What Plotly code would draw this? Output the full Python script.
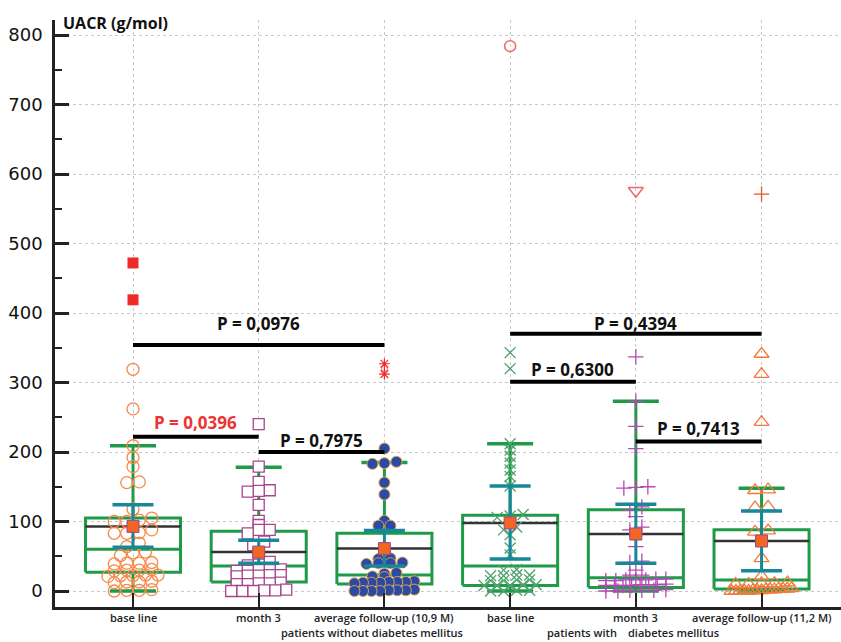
import plotly.graph_objects as go

# ---------------- data ----------------
categories = ["base line", "month 3", "average follow-up (10,9 M)",
              "base line", "month 3", "average follow-up (11,2 M)"]

g1_vals = [209, 192, 179, 157, 156, 118, 105, 102, 100, 100, 88, 84, 83, 83, 69, 64, 56, 55, 51,
           41, 40, 40, 39, 31, 30, 30, 29, 23, 23, 22, 22, 21, 14, 13, 13, 12, 2, 1, 1, 0]
g2_vals = [179, 157, 145, 144, 143, 124, 101, 95, 88, 88, 83, 71, 66, 49, 42, 38, 37,
           31, 30, 30, 29, 29, 23, 23, 22, 22, 21, 12, 11, 11, 10, 10, 2, 1, 1, 0, 0, 0]
g3_vals = [205, 186, 184, 183, 156, 139, 101, 94, 94, 47, 46, 41, 40, 40, 39, 26, 25, 21, 20,
           14, 13, 13, 13, 12, 12, 12, 11, 2, 1, 1, 1, 0, 0, 0, 0]
g4_vals = [212, 203, 194, 184, 174, 165, 151, 110, 108, 106, 92, 88, 81, 62, 52, 31, 30,
           23, 23, 22, 22, 16, 16, 15, 15, 9, 9, 8, 8, 8, 1, 1, 0, 0]
g5_vals = [273, 237, 205, 150, 149, 148, 121, 116, 107, 92, 88, 64, 43, 41, 30, 23, 23,
           17, 17, 16, 16, 16, 15, 15, 10, 9, 9, 9, 8, 8, 8, 8, 2, 1, 1, 1, 0, 0]
g6_vals = [146, 145, 121, 120, 87, 85, 47, 21, 12, 11, 11, 10, 10,
           4, 3, 3, 3, 2, 2, 2, 1, 1, 1, 0, 0, 0, 0, 0]

# outliers (same marker as group)
g1_out = [262, 319]
g2_out = [240]
g3_out_small = [320]
g4_out = [343, 320]
g5_out = [337]
g6_out = [341, 312, 243]
# far outliers (red)
g1_far = [472, 419]
g3_far = [327, 312]
g4_far = [784]
g5_far = [576]
g6_far = [571]

q1 = [27, 13, 10, 8, 5, 3]
q3 = [105, 86, 83, 109, 117, 88]
median = [60, 36, 23, 36, 19, 16]
mean = [93, 56, 61, 98, 82, 72]
ci_low = [63, 40, 36, 46, 40, 29]
ci_high = [124, 73, 87, 151, 125, 115]
whisk_low = [0, 0, 0, 0, 0, 0]
whisk_high = [209, 178, 185, 212, 273, 148]

p_labels = ["P = 0,0396", "P = 0,7975", "P = 0,0976", "P = 0,4394", "P = 0,6300", "P = 0,7413"]
p_from = [0, 1, 0, 3, 3, 4]
p_to = [1, 2, 2, 5, 4, 5]
p_line_y = [222, 200, 354, 370, 301, 215]
p_text_y = [242, 217, 385, 385, 319, 234]
p_color = ["#ee3333", "#111111", "#111111", "#111111", "#111111", "#111111"]

group_line1 = ["patients without diabetes mellitus", "patients with", "diabetes mellitus"]

# ---------------- layout geometry ----------------
W, H = 841, 642
ML, MR, MT, MB = 55, 0, 20, 35
XR = [-0.6205, 5.632]
YR = [-23, 821.6]
PW, PH = W - ML - MR, H - MT - MB
xpx = PW / (XR[1] - XR[0])


def dot_rows(vals, s_px, binsize=6, maxw=60):
    vs = sorted(vals, reverse=True)
    rows = []
    for v in vs:
        if rows and rows[-1][0] - v < binsize:
            rows[-1].append(v)
        else:
            rows.append([v])
    offs, ys = [], []
    for r in rows:
        n = len(r)
        sp = s_px if n <= 1 else min(s_px, maxw / (n - 1))
        for j, v in enumerate(r):
            offs.append(((n - 1) / 2 - j) * sp / xpx)
            ys.append(v)
    return offs, ys


fig = go.Figure()

GREEN = "#1f9a48"
TEAL = "#17879a"
BOXHW = 0.378
CAPHW = 0.183
CIHW = 0.163


def seg(x0, x1, y0, y1, color, width):
    fig.add_trace(go.Scatter(x=[x0, x1], y=[y0, y1], mode="lines",
                             line=dict(color=color, width=width),
                             hoverinfo="skip", showlegend=False))


# boxes / whiskers
for i in range(6):
    fig.add_trace(go.Scatter(
        x=[i - BOXHW, i + BOXHW, i + BOXHW, i - BOXHW, i - BOXHW],
        y=[q1[i], q1[i], q3[i], q3[i], q1[i]], mode="lines",
        line=dict(color=GREEN, width=3), hoverinfo="skip", showlegend=False))
    seg(i - BOXHW, i + BOXHW, median[i], median[i], GREEN, 3)
    seg(i - BOXHW, i + BOXHW, mean[i], mean[i], "#333333", 2.5)
    seg(i, i, q3[i], whisk_high[i], GREEN, 3)
    seg(i, i, whisk_low[i], q1[i], GREEN, 3)
    seg(i - CAPHW, i + CAPHW, whisk_high[i], whisk_high[i], GREEN, 3.5)
    seg(i - CAPHW, i + CAPHW, whisk_low[i], whisk_low[i], GREEN, 3.5)

# points
groups = [
    (g1_vals, g1_out, dict(symbol="circle-open", size=12, color="#f7894a", line=dict(width=1.3)), 12.5),
    (g2_vals, g2_out, dict(symbol="square", size=11, color="white", line=dict(color="#a8468c", width=1.3)), 11),
    (g3_vals, [], dict(symbol="circle", size=11, color="#2b4aa6", line=dict(color="#e0a24a", width=1)), 12),
    (g4_vals, g4_out, dict(symbol="x-thin-open", size=11, color="#4ea26c", line=dict(color="#4ea26c", width=1.3)), 13),
    (g5_vals, g5_out, dict(symbol="cross-thin-open", size=11, color="#b648b6", line=dict(color="#b648b6", width=1.3)), 12),
    (g6_vals, g6_out, dict(symbol="triangle-up-open", size=13, color="#f47a38", line=dict(width=1.3)), 13),
]
for i, (vals, outs, mk, s) in enumerate(groups):
    offs, ys = dot_rows(vals, s)
    xs = [i + o for o in offs] + [i] * len(outs)
    ys = ys + list(outs)
    fig.add_trace(go.Scatter(x=xs, y=ys, mode="markers", marker=mk,
                             hoverinfo="skip", showlegend=False))

# small open circle between asterisks in group 3
fig.add_trace(go.Scatter(x=[2] * len(g3_out_small), y=g3_out_small, mode="markers",
                         marker=dict(symbol="circle-open", size=6, color="#f05050", line=dict(width=1)),
                         hoverinfo="skip", showlegend=False))

# far outliers
RED = "#ee2a2a"
fig.add_trace(go.Scatter(x=[0] * len(g1_far), y=g1_far, mode="markers",
                         marker=dict(symbol="square", size=11, color=RED), hoverinfo="skip", showlegend=False))
fig.add_trace(go.Scatter(x=[2] * len(g3_far), y=g3_far, mode="markers",
                         marker=dict(symbol="asterisk-open", size=9, color=RED, line=dict(color=RED, width=1.2)),
                         hoverinfo="skip", showlegend=False))
fig.add_trace(go.Scatter(x=[3] * len(g4_far), y=g4_far, mode="markers",
                         marker=dict(symbol="circle-open", size=11, color="#f06868", line=dict(width=1.5)),
                         hoverinfo="skip", showlegend=False))
fig.add_trace(go.Scatter(x=[4] * len(g5_far), y=g5_far, mode="markers",
                         marker=dict(symbol="triangle-down-open", size=13, color="#f06868", line=dict(width=1.5)),
                         hoverinfo="skip", showlegend=False))
fig.add_trace(go.Scatter(x=[5] * len(g6_far), y=g6_far, mode="markers",
                         marker=dict(symbol="cross-thin-open", size=11, color="#f05030", line=dict(color="#f05030", width=1.3)),
                         hoverinfo="skip", showlegend=False))

# CI bars and means
for i in range(6):
    seg(i, i, ci_low[i], ci_high[i], TEAL, 3)
    seg(i - CIHW, i + CIHW, ci_low[i], ci_low[i], TEAL, 3.5)
    seg(i - CIHW, i + CIHW, ci_high[i], ci_high[i], TEAL, 3.5)
fig.add_trace(go.Scatter(x=list(range(6)), y=mean, mode="markers",
                         marker=dict(symbol="square", size=12, color="#f26522",
                                     line=dict(color="#9a4a8a", width=1)),
                         hoverinfo="skip", showlegend=False))

# P-value brackets
for k in range(len(p_labels)):
    seg(p_from[k], p_to[k], p_line_y[k], p_line_y[k], "#000000", 4)
    fig.add_annotation(x=(p_from[k] + p_to[k]) / 2, y=p_text_y[k], xref="x", yref="y",
                       text=p_labels[k], showarrow=False,
                       font=dict(family="Open Sans", size=17, color=p_color[k], weight="bold"))

# category labels
LBL = dict(family="Open Sans", size=11, color="#222", weight=600)
Y1 = (H - MB - 617) / PH
Y2 = (H - MB - 632.5) / PH
for i, c in enumerate(categories):
    fig.add_annotation(x=i, y=Y1, xref="x", yref="paper", yanchor="middle", text=c,
                       showarrow=False, font=LBL, borderpad=0)
for txt, px in zip(group_line1, [280, 618, 720]):
    fig.add_annotation(x=(px - ML) / PW, y=Y2, xref="paper", yref="paper", yanchor="middle",
                       text=txt, showarrow=False, font=LBL, borderpad=0)

# axis title
fig.add_annotation(x=(61 - ML) / PW, y=1.0, xref="paper", yref="paper",
                   xanchor="left", yanchor="top", yshift=10, text="UACR (g/mol)", showarrow=False,
                   font=dict(family="Open Sans", size=16, color="#111", weight="bold"))

fig.update_layout(
    width=W, height=H, margin=dict(l=ML, r=MR, t=MT, b=MB),
    plot_bgcolor="white", paper_bgcolor="white",
    xaxis=dict(range=XR, tickvals=list(range(6)), ticktext=[""] * 6, showticklabels=False,
               showgrid=True, gridcolor="#c8c8c8", griddash="dot", gridwidth=1,
               ticks="inside", ticklen=14, tickwidth=2, tickcolor="#222", automargin=False,
               showline=True, linecolor="#222", linewidth=2.5, zeroline=False),
    yaxis=dict(range=YR, tickvals=[0, 100, 200, 300, 400, 500, 600, 700, 800],
               showgrid=True, gridcolor="#c8c8c8", griddash="dot", gridwidth=1,
               ticks="inside", ticklen=14, tickwidth=2.5, tickcolor="#222",
               minor=dict(tickvals=[50, 150, 250, 350, 450, 550, 650, 750], ticks="inside",
                          ticklen=7, tickwidth=1.5, tickcolor="#222", showgrid=False),
               showline=True, linecolor="#222", linewidth=2.5, zeroline=False, automargin=False,
               tickfont=dict(family="DejaVu Sans", size=18, color="#111"),
               ticklabelstandoff=6),
)

fig.write_html("out.html", config={"displayModeBar": False},
               post_script="document.body.style.margin='0px';")
